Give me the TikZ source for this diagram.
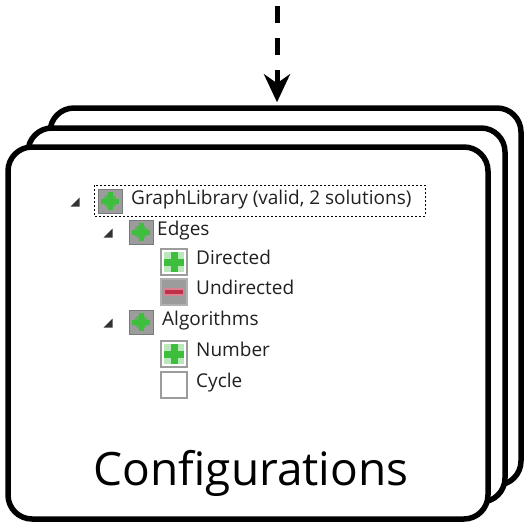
\documentclass[tikz,border=0pt]{standalone}
\usepackage{fontspec}
\setmainfont{Open Sans}
\usetikzlibrary{arrows.meta}
\definecolor{boxgray}{HTML}{9C9C9C}
\definecolor{boxedge}{HTML}{7A7A7A}
\definecolor{okgreen}{HTML}{3DBE3D}
\definecolor{nored}{HTML}{C0304A}
\definecolor{treetext}{HTML}{202020}
\tikzset{
  card/.style={draw=black, line width=5.5pt, fill=white, rounded corners=24pt},
  item/.style={anchor=mid west, inner sep=0pt, font=\fontsize{19}{22}\selectfont, text=treetext},
  expander/.style={fill=black!80, draw=none},
}
\newcommand{\cbgray}[2]{% gray box with green plus
  \fill[boxgray, draw=boxedge, line width=1pt] (#1-12,#2-12) rectangle (#1+12,#2+12);
  \fill[okgreen!70!boxgray] (#1,#2) circle (7);
  \fill[okgreen] (#1-2.5,#2-9) rectangle (#1+2.5,#2+9);
  \fill[okgreen] (#1-9,#2-2.5) rectangle (#1+9,#2+2.5);}
\newcommand{\cbgreen}[2]{% selected: green plus on white
  \fill[white, draw=boxgray, line width=2pt] (#1-13,#2-13) rectangle (#1+13,#2+13);
  \fill[okgreen!35] (#1-10,#2-10) rectangle (#1+10,#2+10);
  \fill[okgreen] (#1-3.5,#2-10) rectangle (#1+3.5,#2+10);
  \fill[okgreen] (#1-10,#2-3.5) rectangle (#1+10,#2+3.5);}
\newcommand{\cbred}[2]{% deselected: red minus on gray
  \fill[boxgray, draw=boxgray!80, line width=2pt] (#1-13,#2-13) rectangle (#1+13,#2+13);
  \fill[nored!60!white] (#1-10,#2-4) rectangle (#1+10,#2+4);
  \fill[nored] (#1-9,#2-2) rectangle (#1+9,#2+2);}
\newcommand{\cbempty}[2]{%
  \fill[white, draw=boxgray, line width=2pt] (#1-13,#2-13) rectangle (#1+13,#2+13);}
\newcommand{\expand}[2]{%
  \fill[expander] (#1+4.5,#2-4.5) -- (#1+4.5,#2+4.5) -- (#1-4.5,#2+4.5) -- cycle;}
\begin{document}
\begin{tikzpicture}[x=1pt, y=-1pt]
\useasboundingbox (0,0) rectangle (523,525);
% stacked cards
\node[card, minimum width=471pt, minimum height=377pt] (back) at (285.5,296.5) {};
\node[card, minimum width=477pt, minimum height=374pt] (middle) at (266.5,315) {};
\node[card, minimum width=480pt, minimum height=372pt] (front) at (248,333) {};
% incoming dashed arrow
\coordinate (src) at (277,6);
\draw[line width=5pt, dash pattern=on 17pt off 15pt, -{Stealth[length=28pt, width=26pt, inset=9pt]}]
  (src) -- ([yshift=3pt]src |- back.north);
% tree
\draw[black, dash pattern=on 2pt off 2pt, line width=1pt] (94,185) rectangle (425,216);
\expand{75}{202}
\cbgray{110}{201}
\node[item] (root) at (131,202) {GraphLibrary (valid, 2 solutions)};
\expand{108}{233}
\cbgray{141}{232}
\node[item] (edges) at (157,233) {Edges};
\cbgreen{174}{262}
\node[item] (directed) at (196,262) {Directed};
\cbred{174}{292}
\node[item] (undirected) at (196,292) {Undirected};
\expand{108}{323}
\cbgray{141}{322}
\node[item] (algorithms) at (162,323) {Algorithms};
\cbgreen{174}{354}
\node[item] (number) at (196,354) {Number};
\cbempty{174}{385}
\node[item] (cycle) at (196,385) {Cycle};
% label
\node[anchor=base, inner sep=0pt, font=\fontsize{46}{50}\selectfont] (label) at (251,485) {Configurations};
\end{tikzpicture}
\end{document}
